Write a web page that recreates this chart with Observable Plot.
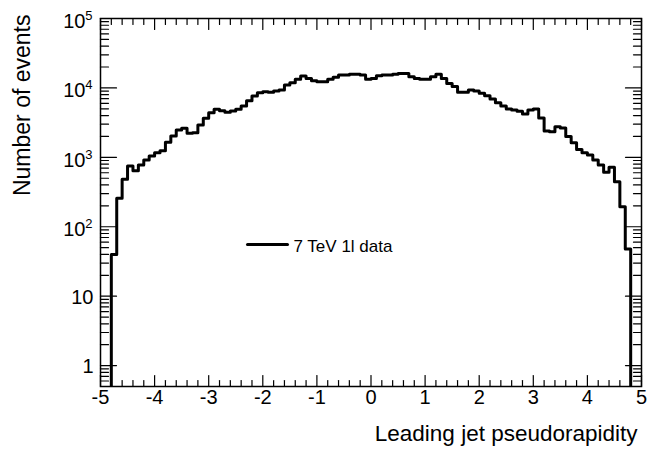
<!DOCTYPE html>
<html>
<head>
<meta charset="utf-8">
<script src="https://cdn.jsdelivr.net/npm/d3@7"></script>
<script src="https://cdn.jsdelivr.net/npm/@observablehq/plot@0.6"></script>
<style>
  html, body { margin: 0; padding: 0; background: #fff; }
  #chart { width: 648px; height: 451px; }
</style>
</head>
<body>
<div id="chart"></div>
<script>
// ---- data ----
const binStart = -5;
const binWidth = 0.1;
const counts = [
  0, 0, 40, 257, 482, 750, 640, 774, 915, 1045,
  1165, 1245, 1645, 2030, 2470, 2620, 2220, 2260, 2920, 3650,
  4390, 4920, 4690, 4450, 4650, 4920, 5480, 6540, 7650, 8510,
  8810, 8650, 9020, 9330, 11000, 11900, 13300, 14800, 13700, 12700,
  12300, 12300, 13300, 14200, 15350, 15350, 15700, 15700, 15400, 13300,
  13700, 15000, 15350, 15350, 15700, 16200, 16200, 14500, 13700, 13300,
  13300, 14500, 15700, 13700, 11600, 10450, 8650, 8650, 9330, 9020,
  8400, 7700, 6900, 6100, 5500, 4970, 4800, 4600, 4200, 4790,
  4970, 3700, 2400, 2340, 2760, 2650, 2000, 1620, 1300, 1160,
  1080, 915, 775, 608, 717, 445, 195, 48, 0, 0
];
const xMajorTicks = [-5, -4, -3, -2, -1, 0, 1, 2, 3, 4, 5];
const xTickLabels = ["-5", "-4", "-3", "-2", "-1", "0", "1", "2", "3", "4", "5"];
const yMajorTicks = [1, 10, 100, 1000, 10000, 100000];
const yLabelBase = ["1", "10", "10", "10", "10", "10"];
const yLabelExp = ["", "", "2", "3", "4", "5"];
const xTitle = "Leading jet pseudorapidity";
const yTitle = "Number of events";
const legendLabel = "7 TeV 1l data";

// ---- derived ----
const xMinorTicks = xMajorTicks.slice(0, -1).flatMap(t => [0.2, 0.4, 0.6, 0.8].map(f => +(t + f).toFixed(2)));
const yMinorTicks = [0.1, ...yMajorTicks.slice(0, -1)].flatMap(d => [2,3,4,5,6,7,8,9].map(m => m * d)).filter(v => v > 0.5 && v < 1e5);

const steps = counts.map((c, i) => ({x: binStart + i * binWidth, y: c > 0 ? c : 1e-3}));
steps.push({x: binStart + counts.length * binWidth, y: steps[steps.length - 1].y});

const plainLabels = yMajorTicks.map((v, i) => ({v, base: yLabelBase[i], exp: yLabelExp[i]})).filter(d => d.exp === "");
const expLabels = yMajorTicks.map((v, i) => ({v, base: yLabelBase[i], exp: yLabelExp[i]})).filter(d => d.exp !== "");

const tickShape = {draw(context, l) { context.moveTo(0, 0); context.lineTo(0, -l); }};
const tickStyle = {stroke: "#000", strokeWidth: 1.2, shape: tickShape, anchor: "start"};

const chart = Plot.plot({
  width: 648,
  height: 451,
  marginLeft: 100,
  marginRight: 7,
  marginTop: 18,
  marginBottom: 65,
  style: {fontFamily: "'Liberation Sans', Arial, Helvetica, sans-serif", background: "#fff", color: "#000"},
  x: {domain: [-5, 5], axis: null},
  y: {type: "log", domain: [0.5, 1e5], axis: null},
  marks: [
    // histogram outline
    Plot.line(steps, {x: "x", y: "y", curve: "step-after", stroke: "#000", strokeWidth: 3, clip: true}),
    // frame
    Plot.frame({stroke: "#000", strokeWidth: 1.5}),
    // x ticks bottom & top
    Plot.vector(xMajorTicks, {x: d => d, frameAnchor: "bottom", length: 11, rotate: 0, ...tickStyle}),
    Plot.vector(xMinorTicks, {x: d => d, frameAnchor: "bottom", length: 6, rotate: 0, ...tickStyle}),
    Plot.vector(xMajorTicks, {x: d => d, frameAnchor: "top", length: 11, rotate: 180, ...tickStyle}),
    Plot.vector(xMinorTicks, {x: d => d, frameAnchor: "top", length: 6, rotate: 180, ...tickStyle}),
    // y ticks left & right
    Plot.vector(yMajorTicks, {y: d => d, frameAnchor: "left", length: 16, rotate: 90, ...tickStyle}),
    Plot.vector(yMinorTicks, {y: d => d, frameAnchor: "left", length: 8, rotate: 90, ...tickStyle}),
    Plot.vector(yMajorTicks, {y: d => d, frameAnchor: "right", length: 16, rotate: -90, ...tickStyle}),
    Plot.vector(yMinorTicks, {y: d => d, frameAnchor: "right", length: 8, rotate: -90, ...tickStyle}),
    // x tick labels
    Plot.text(xMajorTicks, {x: d => d, text: (d, i) => xTickLabels[i], frameAnchor: "bottom", dy: 17, fontSize: 20, fill: "#000"}),
    // y tick labels
    Plot.text(plainLabels, {y: "v", text: "base", frameAnchor: "left", textAnchor: "end", dx: -7, dy: 1, fontSize: 20, fill: "#000"}),
    Plot.text(expLabels, {y: "v", text: "base", frameAnchor: "left", textAnchor: "end", dx: -15, dy: 3, fontSize: 20, fill: "#000"}),
    Plot.text(expLabels, {y: "v", text: "exp", frameAnchor: "left", textAnchor: "end", dx: -8, dy: -3, fontSize: 13, fill: "#000"}),
    // axis titles
    Plot.text([xTitle], {text: d => d, frameAnchor: "bottom-right", textAnchor: "end", dx: -4, dy: 54, fontSize: 22.5, fill: "#000"}),
    Plot.text([yTitle], {text: d => d, frameAnchor: "top-left", textAnchor: "end", rotate: -90, dx: -87, dy: -4, fontSize: 23, fill: "#000"}),
    // legend
    Plot.vector([legendLabel], {frameAnchor: "top-left", dx: 147, dy: 226, length: 40, rotate: 90, stroke: "#000", strokeWidth: 3, shape: tickShape, anchor: "start"}),
    Plot.text([legendLabel], {text: d => d, frameAnchor: "top-left", textAnchor: "start", dx: 193, dy: 221, fontSize: 17, fill: "#000"})
  ]
});
document.getElementById("chart").appendChild(chart);
</script>
</body>
</html>
